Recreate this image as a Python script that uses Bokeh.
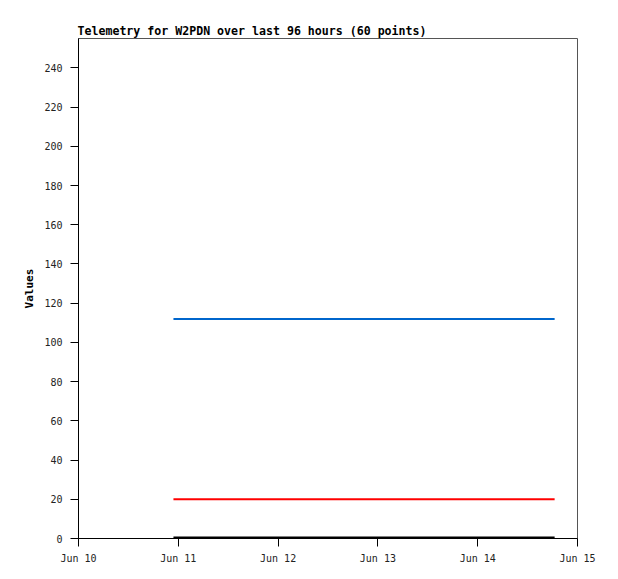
from datetime import datetime
from bokeh.plotting import figure
from bokeh.models import Range1d, FixedTicker, DatetimeTickFormatter, Title
from bokeh.embed import file_html
from bokeh.resources import INLINE

# Data (flat telemetry channels, first and last samples)
times = [datetime(2024, 6, 10, 22, 50), datetime(2024, 6, 14, 18, 30)]
channel_a = [112, 112]   # blue
channel_b = [20, 20]     # red
channel_c = [0.5, 0.5]   # black

tick_dates = [datetime(2024, 6, d) for d in (10, 11, 12, 13, 14, 15)]
y_ticks = [0, 20, 40, 60, 80, 100, 120, 140, 160, 180, 200, 220, 240]

MONO = "DejaVu Sans Mono"

p = figure(width=610, height=571, x_axis_type="datetime",
           output_backend="svg", toolbar_location=None,
           x_range=Range1d(tick_dates[0], tick_dates[-1]),
           y_range=Range1d(0, 255),
           min_border_left=78, min_border_right=33,
           min_border_top=38, min_border_bottom=33)

p.title = Title(text="Telemetry for W2PDN over last 96 hours (60 points)",
                text_font=MONO, text_font_size="11.6px", text_font_style="bold",
                text_color="black", align="left", offset=-1, standoff=2)

p.line(times, channel_a, line_color="#0066cc", line_width=2)
p.line(times, channel_b, line_color="#ff0000", line_width=2)
p.line(times, channel_c, line_color="#000000", line_width=2)

p.xgrid.visible = False
p.ygrid.visible = False
p.outline_line_color = "#555555"
p.outline_line_width = 1

ms = [(d - datetime(1970, 1, 1)).total_seconds() * 1000 for d in tick_dates]
p.xaxis.ticker = FixedTicker(ticks=ms)
p.xaxis.formatter = DatetimeTickFormatter(days="%b %d", months="%b %d", hours="%b %d")
p.yaxis.ticker = FixedTicker(ticks=y_ticks)

for ax in (p.xaxis[0], p.yaxis[0]):
    ax.axis_line_color = "black"
    ax.major_tick_line_color = "black"
    ax.minor_tick_line_color = None
    ax.major_tick_in = 0
    ax.major_tick_out = 8
    ax.major_label_text_font = MONO
    ax.major_label_text_font_size = "10px"
    ax.major_label_text_color = "#222222"

p.xaxis.major_label_standoff = 6
p.yaxis.major_label_standoff = 8
p.yaxis.axis_label = "Values"
p.yaxis.axis_label_text_font = MONO
p.yaxis.axis_label_text_font_size = "11px"
p.yaxis.axis_label_text_font_style = "bold"
p.yaxis.axis_label_text_color = "black"
p.yaxis.axis_label_standoff = 5

open("out.html", "w").write(file_html(p, INLINE))
